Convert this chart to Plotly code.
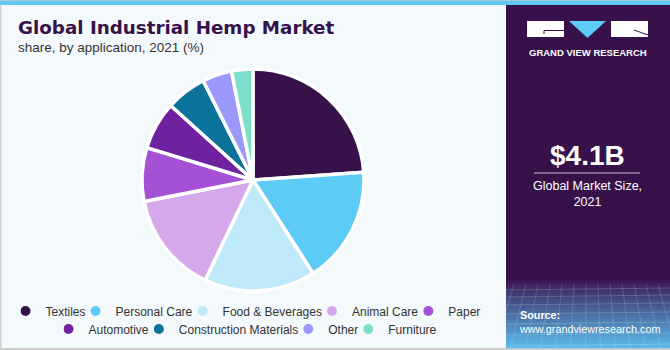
import plotly.graph_objects as go

# Market share by application, 2021 (%)
categories = ["Textiles", "Personal Care", "Food & Beverages", "Animal Care", "Paper",
              "Automotive", "Construction Materials", "Other", "Furniture"]
shares = [23.9, 17.0, 16.2, 14.8, 7.8, 7.0, 5.9, 4.3, 3.1]
colors = ["#36114A", "#5CCBF6", "#BDE9F9", "#D4A8EB", "#A451D6",
          "#6E22A0", "#0B7399", "#9B98FB", "#7BDFCA"]
row1 = categories[:5]
row2 = categories[5:]

market_size = "$4.1B"

W, H = 670, 350


def X(px):
    return px / W


def Y(py):
    return 1 - py / H


FONT = "Liberation Sans, Arial, sans-serif"
DARK = "#36114A"

fig = go.Figure()

cx, cy, r = 253, 180, 111
fig.add_trace(go.Pie(
    labels=categories, values=shares, sort=False, direction="clockwise", rotation=0,
    marker=dict(colors=colors, line=dict(color="white", width=3.5)),
    textinfo="none", hoverinfo="label+percent", showlegend=False,
    domain=dict(x=[X(cx - r), X(cx + r)], y=[Y(cy + r), Y(cy - r)]),
))

# Legend entries, split over two centred rows
for cat, col in zip(categories, colors):
    fig.add_trace(go.Scatter(
        x=[None], y=[None], mode="markers", name=cat,
        marker=dict(color=col, size=10, symbol="circle"),
        legend="legend" if cat in row1 else "legend2",
        hoverinfo="skip",
    ))

shapes = []
# top stripe
shapes.append(dict(type="rect", xref="paper", yref="paper", x0=0, x1=1, y0=Y(5), y1=1,
                   fillcolor="#5FC9F1", line=dict(width=0), layer="above"))
shapes.append(dict(type="rect", xref="paper", yref="paper", x0=0, x1=1, y0=Y(1), y1=1,
                   fillcolor="#A9C9D8", line=dict(width=0), layer="above"))
# frame lines left and bottom
shapes.append(dict(type="rect", xref="paper", yref="paper", x0=0, x1=X(1.5), y0=0, y1=Y(5),
                   fillcolor="#CFCFCF", line=dict(width=0)))
shapes.append(dict(type="rect", xref="paper", yref="paper", x0=0, x1=1, y0=0, y1=Y(348),
                   fillcolor="#CFCFCF", line=dict(width=0)))
# right panel
px0 = 506
shapes.append(dict(type="rect", xref="paper", yref="paper", x0=X(px0), x1=1, y0=Y(348), y1=Y(5),
                   fillcolor=DARK, line=dict(width=0)))
# gradient band at the bottom of the panel
g_top, g_bot = 280, 348
steps = 34
c0 = (0x3A, 0x17, 0x52)
c1 = (0x5A, 0xB8, 0xE8)
for i in range(steps):
    t = i / (steps - 1)
    t2 = t ** 0.9
    c = tuple(int(c0[k] + (c1[k] - c0[k]) * t2) for k in range(3))
    y0 = g_top + (g_bot - g_top) * i / steps
    y1 = g_top + (g_bot - g_top) * (i + 1) / steps
    shapes.append(dict(type="rect", xref="paper", yref="paper", x0=X(px0), x1=1,
                       y0=Y(y1 + 0.3), y1=Y(y0), fillcolor="rgb(%d,%d,%d)" % c,
                       line=dict(width=0)))
# faint grid texture on the gradient band
for gy in [290, 297, 305, 314, 324, 335, 346]:
    shapes.append(dict(type="line", xref="paper", yref="paper", x0=X(px0), x1=1,
                       y0=Y(gy), y1=Y(gy - 2), line=dict(color="rgba(255,255,255,0.18)", width=1)))
for gx in range(px0 + 8, 670, 12):
    shapes.append(dict(type="line", xref="paper", yref="paper", x0=X(gx), x1=X(gx + (gx - 588) * 0.25),
                       y0=Y(284), y1=Y(348), line=dict(color="rgba(255,255,255,0.15)", width=1)))

# logo
shapes.append(dict(type="rect", xref="paper", yref="paper", x0=X(527), x1=X(564), y0=Y(37), y1=Y(21),
                   fillcolor="white", line=dict(width=0)))
shapes.append(dict(type="path", xref="paper", yref="paper",
                   path="M %f,%f L %f,%f L %f,%f Z" % (X(569), Y(21), X(606), Y(21), X(587.5), Y(38)),
                   fillcolor="#5CCBF6", line=dict(width=0)))
shapes.append(dict(type="rect", xref="paper", yref="paper", x0=X(611), x1=X(648), y0=Y(37), y1=Y(21),
                   fillcolor="white", line=dict(width=0)))
shapes.append(dict(type="path", xref="paper", yref="paper",
                   path="M %f,%f L %f,%f L %f,%f" % (X(544), Y(34), X(544), Y(30.5), X(564), Y(30.5)),
                   line=dict(color=DARK, width=1)))
shapes.append(dict(type="line", xref="paper", yref="paper", x0=X(634), x1=X(648), y0=Y(30), y1=Y(35),
                   line=dict(color=DARK, width=1)))
# divider under market size
shapes.append(dict(type="line", xref="paper", yref="paper", x0=X(534), x1=X(640), y0=Y(173), y1=Y(173),
                   line=dict(color="#C8BCD2", width=1)))

annotations = [
    dict(text="<b>Global Industrial Hemp Market</b>", x=X(16), y=Y(28), xanchor="left", yanchor="middle",
         font=dict(family="DejaVu Sans, sans-serif", size=18.3, color=DARK)),
    dict(text="share, by application, 2021 (%)", x=X(16), y=Y(48), xanchor="left", yanchor="middle",
         font=dict(family=FONT, size=13.5, color="#333333")),
    dict(text="<b>GRAND VIEW RESEARCH</b>", x=X(588), y=Y(52), xanchor="center", yanchor="middle",
         font=dict(family=FONT, size=9.5, color="white")),
    dict(text="<b>" + market_size + "</b>", x=X(587), y=Y(155), xanchor="center", yanchor="middle",
         font=dict(family=FONT, size=28, color="white")),
    dict(text="Global Market Size,<br>2021", x=X(587), y=Y(194), xanchor="center", yanchor="middle",
         font=dict(family=FONT, size=12.5, color="white")),
    dict(text="<b>Source:</b><br>www.grandviewresearch.com", x=X(517), y=Y(322), xanchor="left",
         yanchor="middle", align="left", font=dict(family=FONT, size=10.8, color="white")),
]
for a in annotations:
    a.update(xref="paper", yref="paper", showarrow=False)

legend_common = dict(orientation="h", xanchor="center", yanchor="middle", x=X(253),
                     bgcolor="rgba(0,0,0,0)", font=dict(family=FONT, size=12, color="#333333"),
                     itemclick=False, itemdoubleclick=False, tracegroupgap=0, indentation=-15)

fig.update_layout(
    width=W, height=H, margin=dict(l=0, r=0, t=0, b=0, autoexpand=False),
    paper_bgcolor="#F4F9FC", plot_bgcolor="rgba(0,0,0,0)",
    xaxis=dict(visible=False), yaxis=dict(visible=False),
    shapes=shapes, annotations=annotations,
    legend=dict(y=Y(311), **legend_common),
    legend2=dict(y=Y(329), **legend_common),
)

fig.write_html("out.html")
